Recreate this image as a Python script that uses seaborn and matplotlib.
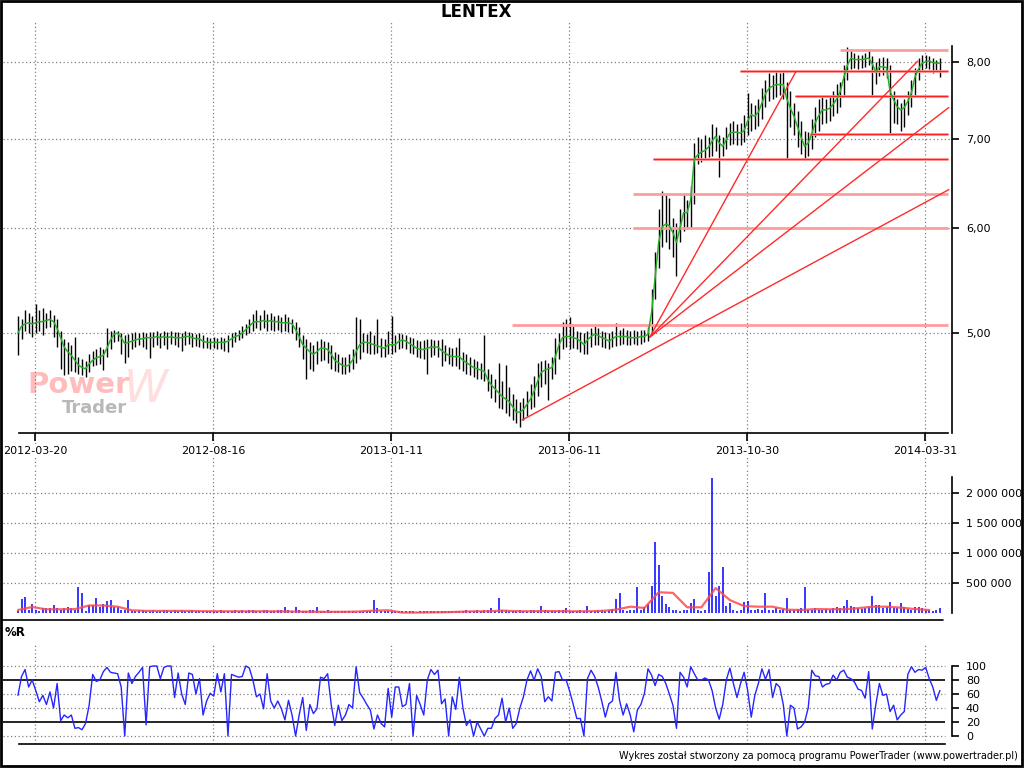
import numpy as np
import seaborn as sns
import matplotlib
matplotlib.use("Agg")
import matplotlib.pyplot as plt
from matplotlib.lines import Line2D
from matplotlib.patches import Rectangle

# --- data (one sample = two sessions) ---
ma_price = [
    5.00, 5.06, 5.08, 5.09, 5.08, 5.09, 5.10, 5.10, 5.11, 5.12,
    5.10, 5.04, 4.96, 4.88, 4.84, 4.81, 4.77, 4.73, 4.71, 4.70,
    4.74, 4.77, 4.79, 4.80, 4.81, 4.87, 4.94, 4.99, 5.00, 4.96,
    4.91, 4.92, 4.93, 4.94, 4.95, 4.95, 4.96, 4.96, 4.96, 4.97,
    4.96, 4.97, 4.96, 4.97, 4.96, 4.96, 4.96, 4.97, 4.97, 4.96,
    4.95, 4.95, 4.93, 4.92, 4.92, 4.92, 4.92, 4.92, 4.92, 4.93,
    4.95, 4.97, 4.98, 5.00, 5.03, 5.06, 5.09, 5.10, 5.10, 5.11,
    5.10, 5.11, 5.10, 5.10, 5.09, 5.09, 5.09, 5.08, 5.03, 4.97,
    4.90, 4.87, 4.84, 4.82, 4.84, 4.87, 4.87, 4.86, 4.82, 4.77,
    4.75, 4.73, 4.72, 4.73, 4.77, 4.84, 4.90, 4.92, 4.92, 4.91,
    4.90, 4.89, 4.88, 4.87, 4.90, 4.90, 4.90, 4.93, 4.94, 4.93,
    4.91, 4.89, 4.87, 4.86, 4.86, 4.87, 4.88, 4.88, 4.88, 4.85,
    4.83, 4.81, 4.80, 4.80, 4.80, 4.77, 4.75, 4.73, 4.71, 4.70,
    4.69, 4.68, 4.61, 4.57, 4.54, 4.51, 4.48, 4.46, 4.44, 4.40,
    4.36, 4.36, 4.38, 4.42, 4.46, 4.52, 4.60, 4.67, 4.69, 4.70,
    4.71, 4.80, 4.90, 4.96, 4.97, 4.97, 4.96, 4.95, 4.93, 4.90,
    4.94, 4.97, 4.99, 4.98, 4.96, 4.95, 4.93, 4.95, 4.97, 4.97,
    4.97, 4.97, 4.96, 4.96, 4.96, 4.97, 4.97, 4.99, 5.18, 5.50,
    5.85, 6.01, 6.04, 6.02, 5.95, 5.85, 6.00, 6.16, 6.16, 6.30,
    6.76, 6.81, 6.84, 6.86, 6.90, 6.97, 7.03, 6.95, 6.91, 6.99,
    7.07, 7.08, 7.08, 7.07, 7.10, 7.22, 7.30, 7.28, 7.33, 7.45,
    7.57, 7.64, 7.67, 7.69, 7.69, 7.69, 7.50, 7.38, 7.28, 7.15,
    7.02, 6.91, 6.95, 7.06, 7.20, 7.29, 7.36, 7.36, 7.38, 7.43,
    7.50, 7.60, 7.78, 7.95, 8.05, 8.03, 8.03, 8.03, 8.04, 8.05,
    7.97, 7.86, 7.93, 7.93, 7.92, 7.60, 7.49, 7.40, 7.36, 7.39,
    7.47, 7.58, 7.79, 7.90, 7.98, 8.00, 8.01, 7.99, 7.98, 7.98,
]
bar_hi = [
    5.15, 5.12, 5.20, 5.18, 5.15, 5.26, 5.20, 5.22, 5.18, 5.20,
    5.16, 5.12, 5.02, 4.95, 4.92, 4.90, 4.97, 4.80, 4.78, 4.76,
    4.82, 4.85, 4.86, 4.88, 4.86, 5.04, 5.02, 5.03, 5.02, 5.00,
    4.98, 4.99, 5.00, 5.01, 5.00, 5.01, 5.00, 5.01, 5.01, 5.02,
    5.00, 5.02, 5.01, 5.02, 5.01, 5.01, 5.00, 5.02, 5.01, 5.00,
    4.99, 5.00, 4.98, 4.97, 4.96, 4.97, 4.96, 4.97, 4.96, 4.98,
    5.00, 5.01, 5.03, 5.06, 5.08, 5.12, 5.17, 5.20, 5.16, 5.20,
    5.17, 5.18, 5.15, 5.16, 5.14, 5.17, 5.14, 5.12, 5.10, 5.05,
    4.98, 4.95, 4.92, 4.90, 4.93, 4.95, 4.93, 4.92, 4.90, 4.84,
    4.82, 4.80, 4.80, 4.82, 4.86, 5.14, 5.12, 5.00, 4.99, 5.02,
    4.98, 5.12, 4.96, 4.95, 5.02, 5.15, 4.98, 5.00, 4.99, 4.98,
    4.97, 4.96, 4.94, 4.93, 4.94, 4.95, 4.95, 4.94, 4.94, 4.95,
    4.90, 4.88, 4.87, 4.88, 4.96, 4.84, 4.82, 4.80, 4.78, 4.76,
    4.75, 4.98, 4.70, 4.66, 4.62, 4.75, 4.60, 4.73, 4.55, 4.50,
    4.46, 4.44, 4.47, 4.52, 4.58, 4.64, 4.75, 4.76, 4.77, 4.75,
    4.80, 4.96, 5.00, 5.10, 5.12, 5.14, 5.06, 5.02, 5.01, 5.00,
    5.02, 5.04, 5.06, 5.04, 5.02, 5.01, 5.00, 5.02, 5.09, 5.03,
    5.04, 5.03, 5.02, 5.03, 5.02, 5.03, 5.03, 5.05, 5.40, 5.75,
    6.20, 6.39, 6.35, 6.32, 6.10, 6.05, 6.20, 6.37, 6.30, 6.45,
    6.95, 7.02, 7.00, 7.05, 7.02, 7.18, 7.15, 7.05, 7.02, 7.15,
    7.20, 7.22, 7.18, 7.20, 7.30, 7.58, 7.45, 7.42, 7.50, 7.65,
    7.75, 7.85, 7.82, 7.87, 7.84, 7.86, 7.72, 7.60, 7.45, 7.35,
    7.22, 7.10, 7.08, 7.25, 7.40, 7.50, 7.52, 7.50, 7.52, 7.60,
    7.70, 7.72, 7.95, 8.20, 8.18, 8.12, 8.10, 8.10, 8.12, 8.18,
    8.08, 8.00, 8.05, 8.06, 8.05, 7.95, 7.60, 7.50, 7.45, 7.50,
    7.60, 7.75, 7.92, 8.05, 8.10, 8.10, 8.08, 8.05, 8.02, 8.05,
]
bar_lo = [
    4.81, 4.95, 5.02, 5.00, 4.97, 5.00, 5.02, 4.98, 5.04, 5.05,
    4.97, 4.88, 4.70, 4.65, 4.66, 4.68, 4.67, 4.66, 4.65, 4.63,
    4.67, 4.72, 4.73, 4.74, 4.69, 4.80, 4.86, 4.92, 4.93, 4.82,
    4.75, 4.80, 4.86, 4.88, 4.90, 4.88, 4.86, 4.79, 4.88, 4.90,
    4.87, 4.90, 4.86, 4.91, 4.90, 4.88, 4.85, 4.90, 4.91, 4.88,
    4.89, 4.88, 4.87, 4.87, 4.86, 4.87, 4.86, 4.86, 4.85, 4.84,
    4.88, 4.92, 4.94, 4.96, 4.98, 5.00, 5.02, 5.04, 5.03, 5.04,
    5.02, 5.03, 5.02, 5.03, 5.01, 5.02, 5.01, 5.00, 4.94, 4.88,
    4.78, 4.62, 4.70, 4.68, 4.74, 4.76, 4.77, 4.75, 4.70, 4.68,
    4.67, 4.66, 4.66, 4.67, 4.70, 4.75, 4.78, 4.84, 4.83, 4.82,
    4.82, 4.83, 4.80, 4.80, 4.82, 4.82, 4.84, 4.86, 4.87, 4.86,
    4.83, 4.82, 4.80, 4.79, 4.78, 4.66, 4.80, 4.81, 4.80, 4.72,
    4.76, 4.74, 4.72, 4.72, 4.70, 4.68, 4.66, 4.65, 4.63, 4.62,
    4.62, 4.60, 4.52, 4.47, 4.44, 4.39, 4.38, 4.35, 4.33, 4.30,
    4.28, 4.25, 4.30, 4.33, 4.38, 4.40, 4.48, 4.55, 4.58, 4.45,
    4.62, 4.66, 4.78, 4.86, 4.88, 4.86, 4.87, 4.86, 4.84, 4.82,
    4.82, 4.88, 4.90, 4.90, 4.88, 4.87, 4.86, 4.88, 4.89, 4.90,
    4.91, 4.90, 4.90, 4.91, 4.90, 4.91, 4.92, 4.93, 4.98, 5.30,
    5.60, 5.80, 5.85, 5.78, 5.70, 5.52, 5.85, 5.97, 5.99, 6.00,
    6.25, 6.70, 6.72, 6.75, 6.78, 6.80, 6.85, 6.55, 6.80, 6.88,
    6.92, 6.94, 6.92, 6.93, 6.96, 7.05, 7.10, 7.12, 7.16, 7.25,
    7.40, 7.48, 7.50, 7.52, 7.55, 7.50, 6.76, 7.15, 7.05, 6.90,
    6.82, 6.76, 6.80, 6.88, 7.02, 7.10, 7.18, 7.20, 7.22, 7.28,
    7.32, 7.40, 7.55, 7.75, 7.90, 7.92, 7.90, 7.92, 7.93, 7.95,
    7.52, 7.70, 7.80, 7.82, 7.78, 7.07, 7.20, 7.18, 7.10, 7.15,
    7.30, 7.40, 7.55, 7.75, 7.88, 7.92, 7.90, 7.85, 7.88, 7.79,
]
volume_k = [
    40, 230, 270, 60, 160, 50, 40, 90, 90, 90,
    130, 90, 50, 80, 110, 90, 60, 440, 340, 40,
    140, 140, 250, 100, 160, 200, 220, 100, 100, 55,
    55, 220, 45, 40, 50, 60, 45, 30, 50, 45,
    40, 55, 50, 45, 60, 40, 50, 45, 40, 55,
    45, 40, 35, 40, 30, 35, 40, 50, 30, 40,
    45, 50, 40, 55, 45, 60, 50, 45, 40, 55,
    50, 45, 40, 55, 50, 110, 60, 45, 100, 50,
    40, 45, 55, 50, 100, 45, 40, 50, 35, 40,
    30, 35, 40, 30, 35, 25, 30, 40, 30, 35,
    215, 80, 45, 40, 35, 30, 40, 45, 30, 40,
    30, 35, 25, 40, 30, 35, 45, 40, 30, 35,
    40, 35, 30, 45, 40, 35, 50, 40, 45, 60,
    45, 50, 60, 90, 40, 250, 55, 60, 45, 40,
    40, 55, 35, 45, 50, 60, 45, 120, 50, 45,
    40, 35, 55, 50, 95, 45, 40, 35, 50, 45,
    120, 45, 40, 55, 50, 45, 60, 70, 240, 330,
    50, 40, 50, 60, 430, 60, 100, 160, 460, 1180,
    800, 280, 160, 100, 60, 50, 40, 60, 50, 170,
    230, 60, 40, 50, 680, 2260, 280, 450, 770, 120,
    170, 50, 40, 60, 190, 200, 60, 50, 70, 60,
    330, 60, 50, 80, 60, 70, 260, 60, 50, 70,
    90, 430, 60, 50, 80, 60, 50, 70, 60, 90,
    100, 80, 120, 215, 120, 100, 80, 70, 90, 110,
    290, 140, 140, 90, 110, 180, 90, 80, 170, 100,
    70, 60, 110, 110, 80, 60, 50, 40, 50, 90,
]
# volume average, one value every 4 samples
vol_ma_k = [
    55, 105, 65, 67, 70, 130, 130, 110, 50, 40,
    40, 40, 40, 35, 33, 33, 33, 33, 33, 30,
    28, 25, 25, 25, 30, 45, 50, 12, 12, 15,
    18, 25, 33, 33, 45, 35, 33, 38, 35, 33,
    33, 40, 60, 110, 90, 350, 340, 100, 100, 420,
    220, 120, 110, 110, 60, 55, 70, 67, 67, 85,
    110, 110, 95, 70, 55,
]
williams_r = [
    58, 85, 95, 70, 80, 65, 49, 58, 45, 63,
    40, 75, 22, 30, 26, 30, 11, 12, 9, 18,
    44, 88, 78, 80, 92, 98, 91, 90, 89, 70,
    0, 90, 75, 85, 91, 98, 16, 99, 100, 100,
    82, 98, 100, 100, 55, 90, 60, 45, 90, 88,
    60, 82, 30, 50, 61, 57, 89, 63, 89, 0,
    88, 86, 84, 85, 100, 97, 80, 56, 60, 39,
    89, 50, 40, 50, 39, 23, 51, 30, 0, 30,
    55, 8, 45, 32, 39, 84, 82, 89, 45, 15,
    44, 22, 30, 45, 40, 99, 62, 54, 45, 37,
    10, 30, 18, 13, 68, 27, 70, 70, 42, 45,
    75, 0, 58, 45, 30, 80, 95, 88, 94, 46,
    53, 0, 56, 38, 84, 40, 15, 23, 0, 20,
    10, 0, 11, 11, 25, 30, 54, 20, 40, 11,
    18, 40, 56, 80, 93, 80, 96, 85, 49, 56,
    50, 91, 92, 80, 80, 64, 45, 25, 25, 0,
    82, 94, 85, 70, 50, 27, 46, 50, 91, 51,
    30, 46, 30, 6, 37, 45, 61, 96, 87, 72,
    88, 85, 75, 60, 44, 11, 91, 84, 70, 99,
    89, 80, 80, 83, 80, 65, 40, 24, 45, 80,
    97, 75, 55, 75, 91, 65, 27, 58, 75, 96,
    81, 95, 55, 75, 70, 45, 0, 44, 40, 10,
    13, 20, 40, 94, 86, 85, 70, 74, 75, 87,
    80, 91, 94, 84, 82, 77, 67, 65, 54, 92,
    10, 45, 75, 58, 60, 35, 44, 23, 30, 35,
    88, 99, 91, 95, 94, 98, 82, 70, 51, 65,
]
date_labels = ["2012-03-20", "2012-08-16", "2013-01-11", "2013-06-11", "2013-10-30", "2014-03-31"]
date_ticks = [4.8, 54.8, 104.8, 154.8, 204.8, 254.8]
price_ticks = [5, 6, 7, 8]
price_tick_labels = ["5,00", "6,00", "7,00", "8,00"]
vol_ticks = [500000, 1000000, 1500000, 2000000]
vol_tick_labels = ["500 000", "1 000 000", "1 500 000", "2 000 000"]

# fibonacci levels (price, first sample) and fan lines
fib_levels = [5.07, 6.00, 6.36, 6.76, 7.06, 7.54, 7.87, 8.17]
fib_start = [138.8, 172.8, 172.8, 178.4, 222.5, 218.3, 202.8, 230.9]
fib_core = [False, False, False, True, True, True, True, False]
fan_x0 = [177.5, 177.5, 177.5, 141.6]
fan_p0 = [4.965, 4.965, 4.965, 4.30]
fan_x1 = [218.5, 252.8, 261.5, 261.5]
fan_p1 = [7.86, 8.01, 7.39, 6.41]

sns.set_style("white")
plt.rcParams['font.family'] = ['DejaVu Sans']
plt.rcParams['text.color'] = 'black'
plt.rcParams['xtick.color'] = 'black'
plt.rcParams['ytick.color'] = 'black'

W, H = 1024, 768


def rect(x0, y0, x1, y1):  # pixel box -> figure fraction
    return [x0 / W, 1 - y1 / H, (x1 - x0) / W, (y1 - y0) / H]


fig = plt.figure(figsize=(10.24, 7.68), dpi=100)
day = np.arange(len(ma_price))
x_lim = (-4.2, 262.4)
x_end = 261.2
grid_kw = dict(color='#808080', linestyle=(0, (1, 2)), linewidth=0.9, zorder=0.5)
tick_kw = dict(left=False, right=True, labelleft=False, labelright=True,
               direction='out', length=5, width=1.2, pad=5, labelsize=8,
               colors='black')

# ---- price panel ----
ax = fig.add_axes(rect(3, 22, 952, 433))
ax.set_yscale('log')
ax.vlines(day, bar_lo, bar_hi, color='black', linewidth=1.0, zorder=2)
sns.lineplot(x=day, y=ma_price, ax=ax, color='#2aae2a', linewidth=1.1, zorder=3)

for lvl, x0, core in zip(fib_levels, fib_start, fib_core):
    ax.hlines(lvl, x0, x_end, color='#ff9c9c', linewidth=2.0, zorder=2.5)
    if core:
        ax.hlines(lvl, x0, x_end, color='#ff2020', linewidth=0.9, zorder=2.6)
for a, b, c, d in zip(fan_x0, fan_p0, fan_x1, fan_p1):
    ax.plot([a, c], [b, d], color='#ff2a2a', linewidth=1.0, zorder=2.6)

for t in date_ticks:
    ax.axvline(t, ymin=-0.09, ymax=1, clip_on=False, **grid_kw)
for p in price_ticks:
    ax.axhline(p, **grid_kw)

ax.set_xlim(*x_lim)
ax.set_ylim(4.205, 8.57)
ax.set_yticks(price_ticks)
ax.set_yticklabels(price_tick_labels)
ax.minorticks_off()
ax.set_xticks(date_ticks)
ax.set_xticklabels(date_labels)
ax.tick_params(axis='y', **tick_kw)
ax.tick_params(axis='x', bottom=True, direction='out', length=6, width=1.2, pad=3,
               labelsize=8, colors='black')
for lbl in ax.get_xticklabels():
    lbl.set_bbox(dict(facecolor='white', edgecolor='none', pad=1))
ax.set_xlabel('')
ax.set_ylabel('')
for s in ['top', 'left']:
    ax.spines[s].set_visible(False)
ax.spines['bottom'].set_bounds(0.3, x_end)
ax.spines['right'].set_bounds(4.205, 8.22)
for s in ['bottom', 'right']:
    ax.spines[s].set_color('black')
    ax.spines[s].set_linewidth(1.2)

# watermark
ax.text(27 / W, 1 - 385 / H, 'Power', transform=fig.transFigure, fontsize=21,
        fontweight='bold', color='#ffbcbc', va='center', ha='left', zorder=0.3)
ax.text(62 / W, 1 - 408 / H, 'Trader', transform=fig.transFigure, fontsize=13,
        fontweight='bold', color='#b8b8b8', va='center', ha='left', zorder=0.3)
ax.text(146 / W, 1 - 390 / H, 'W', transform=fig.transFigure, fontsize=32,
        style='italic', color='#ffdede', va='center', ha='center', zorder=0.2)

# ---- volume panel ----
axv = fig.add_axes(rect(3, 468, 952, 614))
axv.vlines(day, 0, np.array(volume_k) * 1000, color='#0000ff', linewidth=1.1, zorder=2)
sns.lineplot(x=np.arange(0, 4 * len(vol_ma_k), 4), y=np.array(vol_ma_k) * 1000, ax=axv,
             color='#ff4a4a', linewidth=1.6, alpha=0.85, zorder=3)
for t in date_ticks:
    axv.axvline(t, **grid_kw)
for v in vol_ticks:
    axv.axhline(v, **grid_kw)
axv.set_xlim(*x_lim)
axv.set_ylim(-11700, 2.42e6)
axv.set_yticks(vol_ticks)
axv.set_yticklabels(vol_tick_labels)
axv.set_xticks([])
axv.tick_params(axis='y', **tick_kw)
axv.set_xlabel('')
axv.set_ylabel('')
for s in ['top', 'left', 'bottom']:
    axv.spines[s].set_visible(False)
axv.spines['right'].set_bounds(0, 2.27e6)
axv.spines['right'].set_color('black')
axv.spines['right'].set_linewidth(1.2)

# ---- %R panel ----
axr = fig.add_axes(rect(3, 645, 952, 744))
sns.lineplot(x=day, y=williams_r, ax=axr, color='#2525ff', linewidth=1.0, zorder=3)
for t in date_ticks:
    axr.axvline(t, **grid_kw)
for v in [0, 40, 60, 100]:
    axr.axhline(v, xmax=(260.4 - x_lim[0]) / (x_lim[1] - x_lim[0]), **grid_kw)
for v in [20, 80]:
    axr.hlines(v, x_lim[0], 260.4, color='black', linewidth=1.2, zorder=2)
axr.set_xlim(*x_lim)
axr.set_ylim(-11.4, 130)
axr.set_yticks([0, 20, 40, 60, 80, 100])
axr.set_xticks([])
axr.tick_params(axis='y', **tick_kw)
axr.set_xlabel('')
axr.set_ylabel('')
for s in ['top', 'left']:
    axr.spines[s].set_visible(False)
axr.spines['bottom'].set_bounds(0.3, 260.4)
axr.spines['right'].set_bounds(0, 100)
for s in ['bottom', 'right']:
    axr.spines[s].set_color('black')
    axr.spines[s].set_linewidth(1.2)

# ---- texts and frame ----
fig.text(476 / W, 1 - 12 / H, 'LENTEX', fontsize=12, fontweight='bold', ha='center', va='center')
fig.text(5 / W, 1 - 632 / H, '%R', fontsize=8.5, fontweight='bold', ha='left', va='center')
fig.text(1018 / W, 1 - 756 / H,
         'Wykres został stworzony za pomocą programu PowerTrader (www.powertrader.pl)',
         fontsize=7, ha='right', va='center')
fig.add_artist(Line2D([3 / W, 943 / W], [1 - 620 / H, 1 - 620 / H], color='black', linewidth=1.2))
fig.add_artist(Rectangle((1 / W, 2 / H), 1021 / W, 765 / H, transform=fig.transFigure,
                         fill=False, edgecolor='black', linewidth=2))

fig.savefig('out.png', dpi=100)
